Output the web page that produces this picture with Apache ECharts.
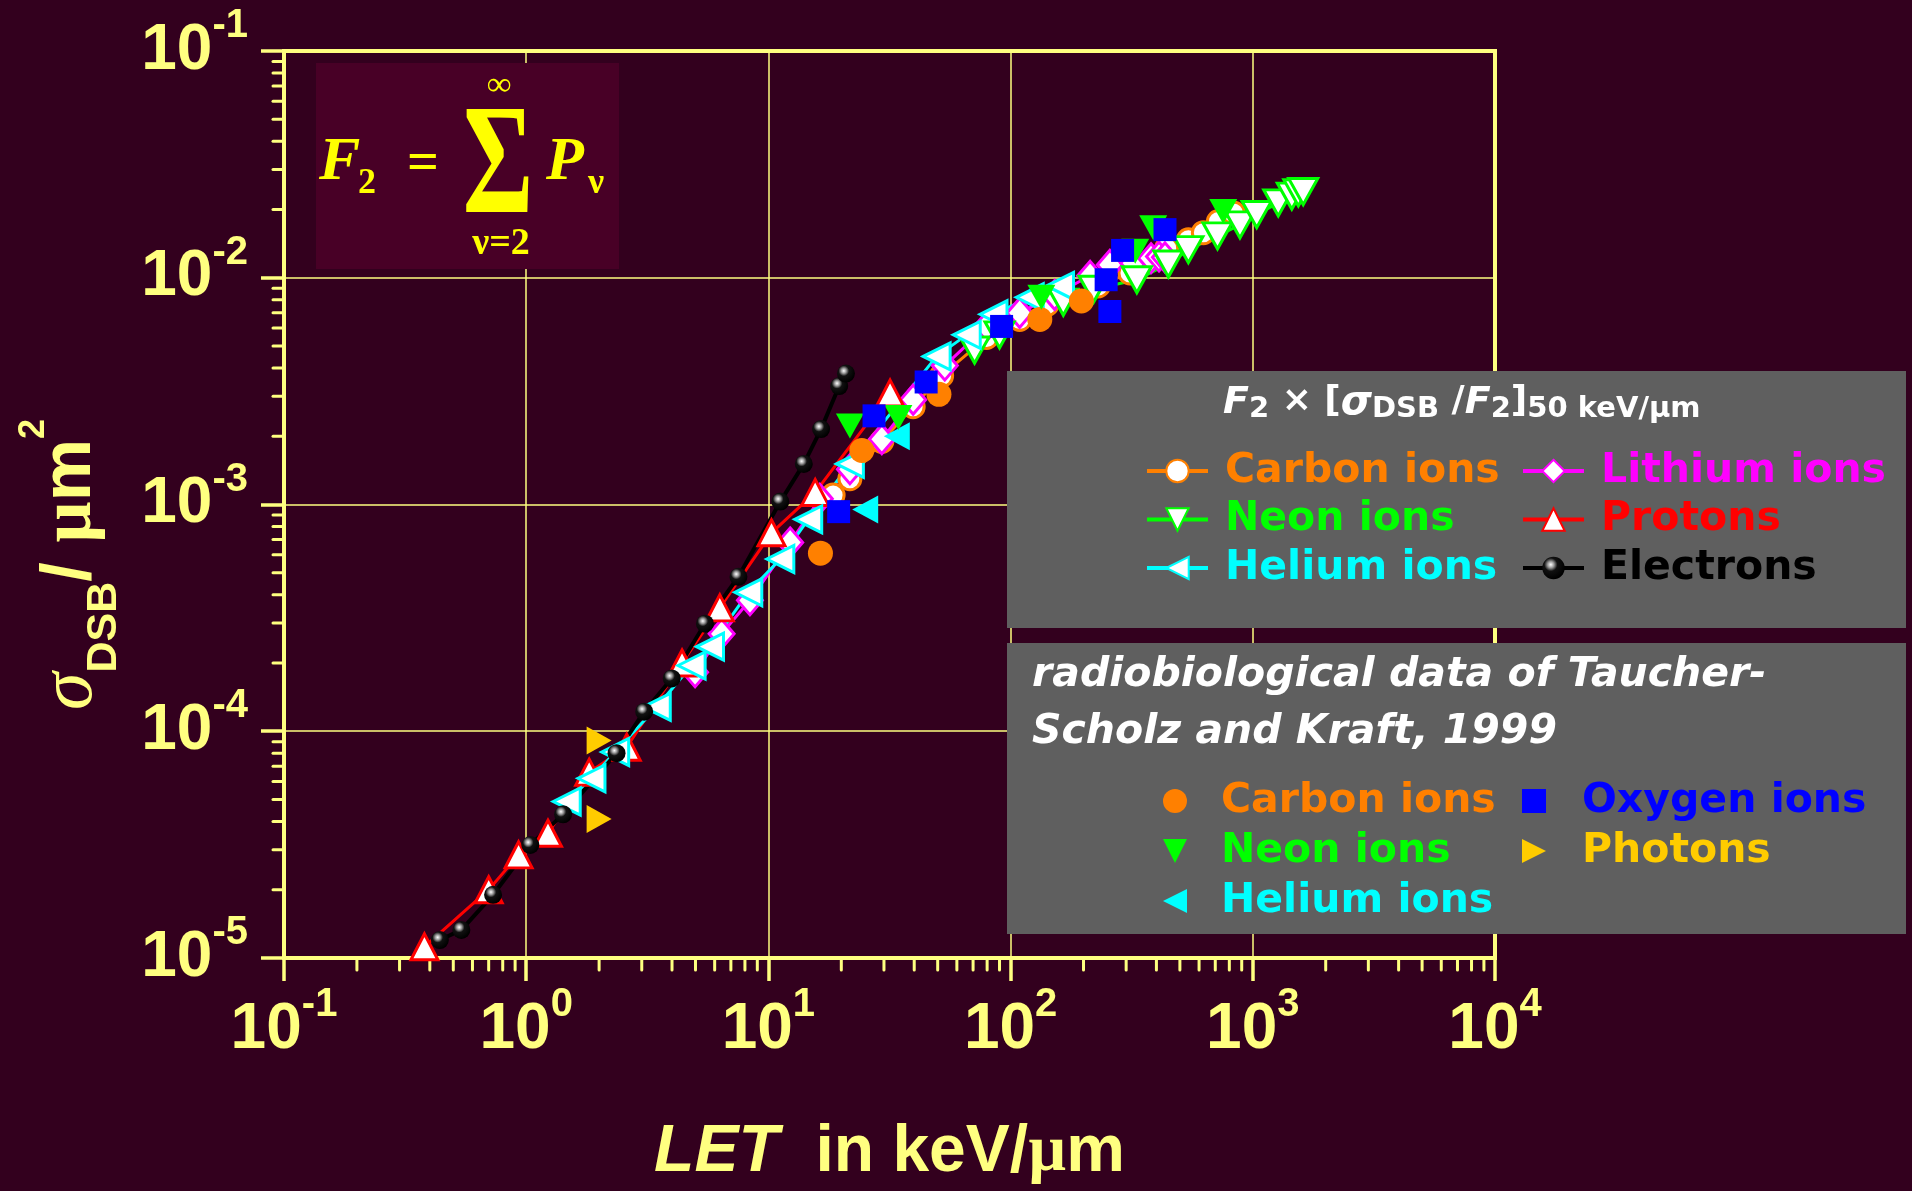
<!DOCTYPE html>
<html><head><meta charset="utf-8">
<script src="https://cdn.jsdelivr.net/npm/echarts@6/dist/echarts.min.js"></script>
<style>html,body{margin:0;padding:0;background:#33001E;}#c{width:1912px;height:1191px;}</style>
</head><body><div id="c"></div>
<script>
// ---- axis ticks ----
const xDecades = [0.1, 1, 10, 100, 1000, 10000];
const yDecades = [1e-5, 1e-4, 1e-3, 1e-2, 1e-1];
const minorMantissas = [2, 3, 4, 5, 6, 7, 8, 9];

// ---- model curves: F2 x [sigma_DSB/F2]_50 keV/um  ([LET keV/um, sigma um^2]) ----
const carbon = [[18.5,1.1e-3],[21.7,1.3e-3],[29.4,1.9e-3],[39.6,2.7e-3],[51.9,3.7e-3],[79.6,5.45e-3],[109,6.55e-3],[141,7.6e-3],[230,9.2e-3],[311,1.05e-2],[441,1.35e-2],[542,1.47e-2],[625,1.58e-2],[721,1.77e-2],[832,1.93e-2]];
const lithium = [[4.98,1.82e-4],[6.41,2.69e-4],[8.39,3.78e-4],[12.3,6.8e-4],[16.3,1.06e-3],[21.7,1.43e-3],[29.4,1.94e-3],[39.6,2.9e-3],[53.5,4.1e-3],[79.6,6.1e-3],[109,7.0e-3],[152,8.4e-3],[213,1.02e-2],[257,1.14e-2],[321,1.16e-2],[380,1.22e-2],[410,1.24e-2],[434,1.23e-2]];
const neon = [[71,4.8e-3],[90,5.6e-3],[165,7.8e-3],[220,8.9e-3],[332,9.8e-3],[448,1.15e-2],[542,1.33e-2],[715,1.53e-2],[885,1.71e-2],[1038,1.9e-2],[1274,2.14e-2],[1449,2.29e-2],[1542,2.37e-2],[1615,2.4e-2]];
const protons = [[0.38,1.12e-5],[0.70,2.0e-5],[0.93,2.85e-5],[1.23,3.55e-5],[1.82,6.6e-5],[2.6,8.5e-5],[4.4,2.0e-4],[6.3,3.5e-4],[10.3,7.5e-4],[15.6,1.13e-3],[31.8,3.1e-3]];
const helium = [[1.47,4.9e-5],[1.86,6.2e-5],[2.33,8.1e-5],[3.46,1.28e-4],[4.82,1.95e-4],[5.74,2.36e-4],[8.26,4.1e-4],[11.2,5.75e-4],[14.6,8.6e-4],[21.7,1.51e-3],[49.5,4.5e-3],[65.9,5.6e-3],[85,6.9e-3],[120,8.2e-3],[160,9.2e-3]];
const electrons = [[0.44,1.2e-5],[0.54,1.33e-5],[0.73,1.9e-5],[1.04,3.15e-5],[1.42,4.3e-5],[2.36,8.0e-5],[3.07,1.22e-4],[3.99,1.71e-4],[5.47,2.98e-4],[7.52,4.8e-4],[11.2,1.03e-3],[14.0,1.51e-3],[16.5,2.15e-3],[19.6,3.33e-3],[20.9,3.78e-3]];

// ---- radiobiological data of Taucher-Scholz and Kraft, 1999 ----
const rbCarbon = [[16.4,6.1e-4],[24.3,1.73e-3],[50.6,3.06e-3],[132,6.55e-3],[196,7.9e-3]];
const rbOxygen = [[19.5,9.3e-4],[27.3,2.46e-3],[44.8,3.47e-3],[91.8,6.1e-3],[248,9.8e-3],[257,7.1e-3],[290,1.32e-2],[434,1.63e-2]];
const rbNeon = [[21.7,2.22e-3],[34.4,2.42e-3],[134,8.2e-3],[327,1.31e-2],[388,1.66e-2],[755,1.96e-2]];
const rbHelium = [[25.1,9.5e-4],[33.9,2.0e-3]];
const rbPhotons = [[2.0,9.1e-5],[2.0,4.1e-5]];

const AX = '#FFFF80';
const C = {carbon:'#FF8000', lithium:'#FF00FF', neon:'#00FF00', protons:'#FF0000', helium:'#00FFFF', electrons:'#000000', oxygen:'#0000FF', photons:'#FFCC00'};
const RB = ' (TS&K)';
const ICON = {down:'path://M0,0L20,0L10,20Z', left:'path://M20,0L0,10L20,20Z', right:'path://M0,0L20,10L0,20Z'};

function minorList(decs){ const out=[]; for(let i=0;i<decs.length-1;i++) for(const m of minorMantissas) out.push(m*decs[i]); return out; }
const xMinor = minorList(xDecades).map(v=>[v, yDecades[0]]);
const yMinor = minorList(yDecades).map(v=>[xDecades[0], v]);

function powLabel(v){ const e = Math.round(Math.log10(v)); return '{b|10}{s|' + e + '}'; }
const labelRich = {
  b:{fontSize:64, fontWeight:'bold', fontFamily:'Liberation Sans', color:AX, lineHeight:90},
  s:{fontSize:40, fontWeight:'bold', fontFamily:'Liberation Sans', color:AX, lineHeight:40, verticalAlign:'top'}
};

function lineSeries(name, data, color, symbol, size, rotate){
  return {type:'line', name, data, symbol, symbolSize:size, symbolRotate:rotate||0,
    lineStyle:{color, width:3}, itemStyle:{color:'#FFFFFF', borderColor:color, borderWidth:3}, z:3, animation:false};
}
function scatterSeries(name, data, color, symbol, size, rotate){
  return {type:'scatter', name, data, symbol, symbolSize:size, symbolRotate:rotate||0,
    itemStyle:{color, opacity:1}, z:4, animation:false};
}
const sphere = {type:'radial', x:0.38, y:0.35, r:0.65, colorStops:[{offset:0,color:'#FFFFFF'},{offset:0.22,color:'#999999'},{offset:0.45,color:'#111111'},{offset:1,color:'#000000'}]};

const series = [
  lineSeries('Carbon ions', carbon, C.carbon, 'circle', 22),
  lineSeries('Lithium ions', lithium, C.lithium, 'diamond', [25,29]),
  lineSeries('Protons', protons, C.protons, 'triangle', [27,26]),
  lineSeries('Neon ions', neon, C.neon, 'triangle', [29,26], 180),
  lineSeries('Helium ions', helium, C.helium, 'triangle', [27,27], 90),
  {type:'line', name:'Electrons', data:electrons, symbol:'circle', symbolSize:18,
    lineStyle:{color:'#000000', width:4}, itemStyle:{color:sphere, borderWidth:0}, z:3, animation:false},
  scatterSeries('Carbon ions'+RB, rbCarbon, C.carbon, 'circle', 25),
  scatterSeries('Helium ions'+RB, rbHelium, C.helium, 'triangle', [28,26], 90),
  scatterSeries('Neon ions'+RB, rbNeon, C.neon, 'triangle', [28,25], 180),
  scatterSeries('Oxygen ions', rbOxygen, C.oxygen, 'rect', 23),
  scatterSeries('Photons', rbPhotons, C.photons, 'triangle', [28,25], -90),
  {type:'custom', name:'xminor', data:xMinor, silent:true, clip:false, z:1, animation:false,
    renderItem:(p, api)=>{ const pt = api.coord([api.value(0), api.value(1)]);
      return {type:'line', shape:{x1:pt[0], y1:pt[1], x2:pt[0], y2:pt[1]+12}, style:{stroke:AX, lineWidth:3, lineCap:'round'}}; }},
  {type:'custom', name:'yminor', data:yMinor, silent:true, clip:false, z:1, animation:false,
    renderItem:(p, api)=>{ const pt = api.coord([api.value(0), api.value(1)]);
      return {type:'line', shape:{x1:pt[0]-11, y1:pt[1], x2:pt[0], y2:pt[1]}, style:{stroke:AX, lineWidth:3, lineCap:'round'}}; }}
];

const legText = {fontSize:41, fontWeight:'bold', fontFamily:'DejaVu Sans', lineHeight:48};
function legItem(name, color, icon){ const o = {name, textStyle:{color}}; if (icon) o.icon = icon; return o; }
const legendBase = {orient:'vertical', selectedMode:false, padding:0, itemGap:0.5, itemWidth:61, itemHeight:28, z:20,
  lineStyle:{width:4}, textStyle:Object.assign({padding:[0,0,0,12]}, legText)};
const legend2Base = {orient:'vertical', selectedMode:false, padding:0, itemGap:0, itemWidth:24, itemHeight:24, z:20,
  formatter:n=>n.replace(RB,''), textStyle:Object.assign({}, legText, {lineHeight:50})};

const FY = '#FFFF00';
const serif = 'Liberation Serif';
const option = {
  backgroundColor:'#33001E',
  animation:false,
  grid:{left:284, right:417, top:51, bottom:231, show:true, borderColor:AX, borderWidth:4, backgroundColor:'transparent'},
  xAxis:{type:'log', logBase:10, min:xDecades[0], max:xDecades[xDecades.length-1],
    name:'{i|LET}{n|  in keV/}{m|µ}{n|m}', nameLocation:'middle', nameGap:160,
    nameTextStyle:{rich:{i:{fontSize:66, fontWeight:'bold', fontStyle:'italic', fontFamily:'Liberation Sans', color:AX, lineHeight:70},
                         n:{fontSize:66, fontWeight:'bold', fontFamily:'Liberation Sans', color:AX, lineHeight:70},
                         m:{fontSize:66, fontWeight:'bold', fontFamily:serif, color:AX, lineHeight:70}}},
    axisLine:{lineStyle:{color:AX, width:4}},
    axisTick:{inside:false, length:23, lineStyle:{color:AX, width:3.5}},
    axisLabel:{formatter:powLabel, margin:27, rich:labelRich},
    splitLine:{show:true, lineStyle:{color:AX, width:1.5}},
    minorTick:{show:false}},
  yAxis:{type:'log', logBase:10, min:yDecades[0], max:yDecades[yDecades.length-1],
    name:'{s|σ}{sub|DSB}{sl|/ }{m|µ}{sl|m}{sup|2}', nameLocation:'middle', nameGap:158, nameRotate:90,
    nameTextStyle:{padding:[0,120,0,0], rich:{
      s:{fontSize:76, fontStyle:'italic', fontFamily:serif, color:AX, lineHeight:110},
      sub:{fontSize:43, fontWeight:'bold', fontFamily:'Liberation Sans', color:AX, lineHeight:44, verticalAlign:'bottom'},
      sl:{fontSize:70, fontWeight:'bold', fontFamily:'Liberation Sans', color:AX, lineHeight:110},
      m:{fontSize:72, fontWeight:'bold', fontFamily:serif, color:AX, lineHeight:110},
      sup:{fontSize:36, fontWeight:'bold', fontFamily:'Liberation Sans', color:AX, lineHeight:36, verticalAlign:'top'}}},
    axisLine:{lineStyle:{color:AX, width:4}},
    axisTick:{inside:false, length:23, lineStyle:{color:AX, width:3.5}},
    axisLabel:{formatter:powLabel, margin:36, rich:labelRich},
    splitLine:{show:true, lineStyle:{color:AX, width:1.5}}},
  legend:[
    Object.assign({}, legendBase, {left:1145, top:447, data:[legItem('Carbon ions',C.carbon), legItem('Neon ions',C.neon), legItem('Helium ions',C.helium)]}),
    Object.assign({}, legendBase, {left:1521, top:447, data:[legItem('Lithium ions',C.lithium), legItem('Protons',C.protons), legItem('Electrons',C.electrons)]}),
    Object.assign({}, legend2Base, {left:1163, top:776, textStyle:Object.assign({}, legend2Base.textStyle, {padding:[0,0,0,29]}),
      data:[legItem('Carbon ions'+RB,C.carbon,'circle'), legItem('Neon ions'+RB,C.neon,ICON.down), legItem('Helium ions'+RB,C.helium,ICON.left)]}),
    Object.assign({}, legend2Base, {left:1522, top:776, textStyle:Object.assign({}, legend2Base.textStyle, {padding:[0,0,0,31]}),
      data:[legItem('Oxygen ions',C.oxygen,'rect'), legItem('Photons',C.photons,ICON.right)]})
  ],
  graphic:[
    // formula box
    {type:'rect', shape:{x:316, y:63, width:303, height:206}, style:{fill:'#480026'}, z:10},
    {type:'text', x:319, y:163, z:11, style:{text:'F', fontSize:62, fontWeight:'bold', fontStyle:'italic', fontFamily:serif, fill:FY, align:'left', verticalAlign:'middle'}},
    {type:'text', x:358, y:184, z:11, style:{text:'2', fontSize:36, fontWeight:'bold', fontFamily:serif, fill:FY, align:'left', verticalAlign:'middle'}},
    {type:'text', x:423, y:166, z:11, style:{text:'=', fontSize:56, fontWeight:'bold', fontFamily:serif, fill:FY, align:'center', verticalAlign:'middle'}},
    {type:'text', x:498, y:172, scaleY:1.45, z:11, style:{text:'Σ', fontSize:108, fontWeight:'bold', fontFamily:serif, fill:FY, align:'center', verticalAlign:'middle'}},
    {type:'text', x:499, y:86, z:11, style:{text:'∞', fontSize:34, fontWeight:'bold', fontFamily:serif, fill:FY, align:'center', verticalAlign:'middle'}},
    {type:'text', x:501, y:244, z:11, style:{text:'ν=2', fontSize:38, fontWeight:'bold', fontFamily:serif, fill:FY, align:'center', verticalAlign:'middle'}},
    {type:'text', x:546, y:163, z:11, style:{text:'P', fontSize:62, fontWeight:'bold', fontStyle:'italic', fontFamily:serif, fill:FY, align:'left', verticalAlign:'middle'}},
    {type:'text', x:588, y:184, z:11, style:{text:'ν', fontSize:36, fontWeight:'bold', fontFamily:serif, fill:FY, align:'left', verticalAlign:'middle'}},
    // legend boxes
    {type:'rect', shape:{x:1007, y:371, width:899, height:257}, style:{fill:'#5F5F5F'}, z:10},
    {type:'rect', shape:{x:1007, y:643, width:899, height:291}, style:{fill:'#5F5F5F'}, z:10},
    {type:'text', x:1223, y:384, z:21, style:{
      text:'{fi|F}{sb|2}{n| × [}{sg|σ}{sb|DSB}{n| /}{fi|F}{sb|2}{n|]}{sb|50 keV/µm}', fill:'#FFFFFF', align:'left', verticalAlign:'top',
      rich:{
        fi:{fontSize:38, fontWeight:'bold', fontStyle:'italic', fontFamily:'DejaVu Sans', fill:'#FFFFFF', lineHeight:40, verticalAlign:'top'},
        n:{fontSize:36, fontWeight:'bold', fontFamily:'DejaVu Sans', fill:'#FFFFFF', lineHeight:40, verticalAlign:'top'},
        sg:{fontSize:40, fontWeight:'bold', fontStyle:'italic', fontFamily:'DejaVu Sans', fill:'#FFFFFF', lineHeight:40, verticalAlign:'top'},
        sb:{fontSize:29, fontWeight:'bold', fontFamily:'DejaVu Sans', fill:'#FFFFFF', lineHeight:28, verticalAlign:'bottom', padding:[20,0,0,0]}
      }}},
    {type:'text', x:1032, y:647, z:21, style:{text:'radiobiological data of Taucher-\nScholz and Kraft, 1999',
      fontSize:41, fontWeight:'bold', fontStyle:'italic', fontFamily:'DejaVu Sans', lineHeight:57, fill:'#FFFFFF', align:'left', verticalAlign:'top'}}
  ],
  series
};
const chart = echarts.init(document.getElementById('c'), null, {renderer:'canvas'});
chart.setOption(option);
</script></body></html>
